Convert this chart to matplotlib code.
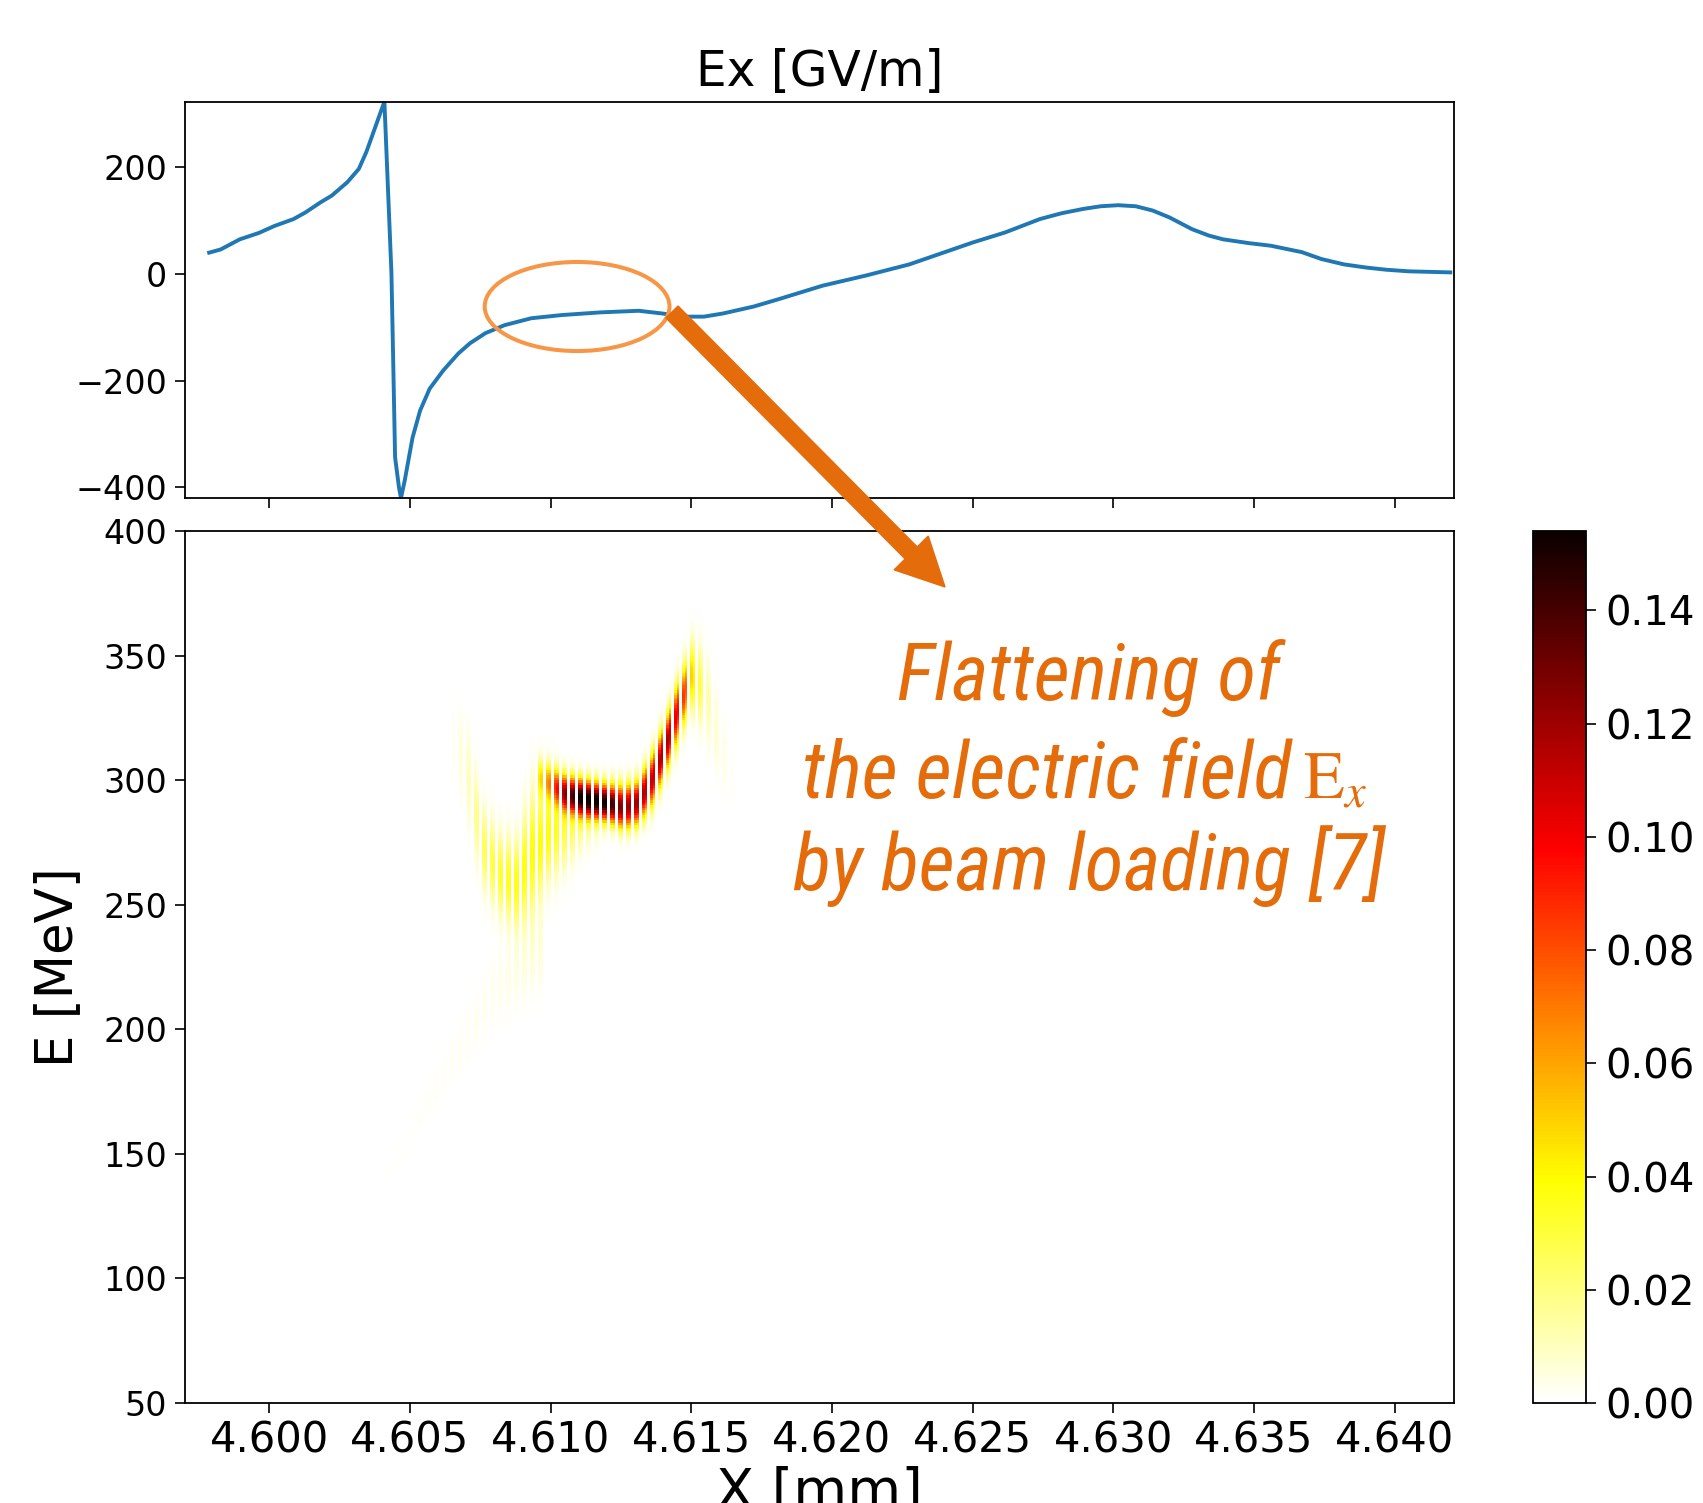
import numpy as np
import matplotlib
matplotlib.use("Agg")
import matplotlib.pyplot as plt
from matplotlib.patches import Ellipse, FancyArrow

plt.rcParams['mathtext.fontset'] = 'stix'

########## top panel : on-axis field Ex [GV/m] ##########
ex_x = [4.59786, 4.59827, 4.59895, 4.59963, 4.60018, 4.60086, 4.60127, 4.60181,
        4.60222, 4.60277, 4.60318, 4.60345, 4.60379, 4.60400, 4.60409, 4.60434,
        4.60440, 4.60447, 4.60461, 4.60468, 4.60481, 4.60509, 4.60536, 4.60570,
        4.60618, 4.60672, 4.60713, 4.60768, 4.60836, 4.60931, 4.61040, 4.61177,
        4.61313, 4.61395, 4.61477, 4.61545, 4.61613, 4.61722, 4.61812, 4.61966,
        4.62120, 4.62275, 4.62500, 4.62616, 4.62739, 4.62817, 4.62893, 4.62955,
        4.63017, 4.63080, 4.63140, 4.63200, 4.63280, 4.63340, 4.63390, 4.63480,
        4.63560, 4.63670, 4.63740, 4.63820, 4.63900, 4.63970, 4.64050, 4.64198]
ex_val = [40, 46, 65, 77, 90, 103, 115, 134,
          147, 172, 197, 229, 279, 310, 323, 2,
          -155, -344, -401, -420, -388, -307, -256, -215,
          -181, -149, -130, -111, -96, -83, -77, -72,
          -69, -74, -80, -80, -74, -61, -47, -22,
          -3, 18, 59, 78, 103, 114, 122, 127,
          129, 127, 119, 106, 84, 72, 65, 58,
          53, 41, 28, 18, 12, 8, 5, 3]

########## bottom panel : longitudinal phase space (x, E) ##########
# bright ridge (centre energy, width, peak density) along x
ridge_x = [4.6095, 4.6100, 4.6105, 4.6111, 4.6120, 4.6126, 4.6131, 4.6136,
           4.6141, 4.6145, 4.6148, 4.6150, 4.6155, 4.6160, 4.6165]
ridge_E = [302, 299, 295, 293, 291, 289, 291, 300, 314, 327, 336, 342, 336, 315, 300]
ridge_sig = [5, 5, 5, 5, 5, 6, 6, 7, 7, 8, 8, 9, 11, 11, 9]
ridge_amp = [0.03, 0.06, 0.11, 0.15, 0.15, 0.12, 0.12, 0.11, 0.12, 0.10, 0.08, 0.05,
             0.015, 0.005, 0.002]
# broad yellow band on the left
halo_x = [4.6065, 4.6070, 4.6076, 4.6082, 4.6088, 4.6093, 4.6099, 4.6105, 4.6111, 4.6117, 4.6122]
halo_E = [318, 305, 273, 262, 258, 270, 279, 281, 283, 285, 287]
halo_sig = [10, 13, 11, 11, 12, 17, 13, 11, 8, 7, 6]
halo_amp = [0.002, 0.008, 0.025, 0.032, 0.036, 0.038, 0.038, 0.03, 0.02, 0.01, 0.0]
# faint low-energy tail
tail_x = [4.6040, 4.6060, 4.6080, 4.6098]
tail_E = [138, 178, 215, 235]
tail_sig = [6, 8, 10, 12]
tail_amp = [0.0008, 0.0015, 0.003, 0.006]

x_ticks = [4.600, 4.605, 4.610, 4.615, 4.620, 4.625, 4.630, 4.635, 4.640]
E_ticks = [50, 100, 150, 200, 250, 300, 350, 400]
ex_ticks = [-400, -200, 0, 200]
cb_ticks = [0.00, 0.02, 0.04, 0.06, 0.08, 0.10, 0.12, 0.14]

x_edges = np.arange(4.5970, 4.6422, 0.000095)
E_edges = np.arange(50, 401, 1.0)
xc = 0.5 * (x_edges[1:] + x_edges[:-1])
Ec = 0.5 * (E_edges[1:] + E_edges[:-1])

density = np.zeros((len(Ec), len(xc)))
for px, pE, ps, pa in [(ridge_x, ridge_E, ridge_sig, ridge_amp),
                       (halo_x, halo_E, halo_sig, halo_amp),
                       (tail_x, tail_E, tail_sig, tail_amp)]:
    cE = np.interp(xc, px, pE)
    s = np.interp(xc, px, ps)
    a = np.interp(xc, px, pa, left=0, right=0)
    density += a * np.exp(-0.5 * ((Ec[:, None] - cE[None, :]) / s[None, :]) ** 2)
density[:, 2::3] = 0  # empty macro-particle bins -> white stripes

W, H = 1703, 1503
fig = plt.figure(figsize=(W / 100, H / 100), dpi=100)

ax1 = fig.add_axes([0.1086, 0.6687, 0.745, 0.2636])
ax2 = fig.add_axes([0.1086, 0.0665, 0.745, 0.5802], sharex=ax1)
cax = fig.add_axes([0.9002, 0.0665, 0.0311, 0.5802])

# top panel
ax1.plot(ex_x, ex_val, color='#1f77b4', lw=2.8)
ax1.set_ylim(-420, 323)
ax1.set_yticks(ex_ticks)
ax1.set_title("Ex [GV/m]", fontsize=35, pad=11)
ax1.tick_params(axis='y', labelsize=24, length=7, width=1.2, pad=6)
ax1.tick_params(axis='x', labelbottom=False, length=7, width=1.2)
ax1.add_patch(Ellipse((4.61094, -61), 0.006569, 167, fill=False,
                      edgecolor='#F79646', lw=2.9, zorder=3))

# bottom panel
mesh = ax2.pcolormesh(x_edges, E_edges, density, cmap='hot_r', vmin=0, vmax=0.154,
                      shading='flat', rasterized=True)
ax2.set_xlim(4.5970, 4.6421)
ax2.set_ylim(50, 400)
ax2.set_xticks(x_ticks)
ax2.set_xticklabels(["%.3f" % v for v in x_ticks])
ax2.set_yticks(E_ticks)
ax2.tick_params(axis='y', labelsize=24, length=7, width=1.2, pad=6)
ax2.tick_params(axis='x', labelsize=30, length=7, width=1.2, pad=5)
ax2.set_xlabel("X [mm]", fontsize=40)
ax2.set_ylabel("E [MeV]", fontsize=37)
ax2.yaxis.set_label_coords(-0.080, 0.5)
ax2.xaxis.set_label_coords(0.5, -0.072)

for ax in (ax1, ax2, cax):
    for sp in ax.spines.values():
        sp.set_linewidth(1.3)

cb = fig.colorbar(mesh, cax=cax, ticks=cb_ticks, format='%.2f')
cb.ax.tick_params(labelsize=29, length=7, width=1.2, pad=7)
cb.outline.set_linewidth(1.3)

# annotation: arrow + text (figure pixels -> inches)
fig.add_artist(FancyArrow(672 / 100, (H - 312) / 100, 2.73, -2.75, width=0.17,
                          head_width=0.48, head_length=0.48, length_includes_head=True,
                          color='#E46C0A', transform=fig.dpi_scale_trans, zorder=10))

txt = dict(color='#E46C0A', style='italic', fontsize=57,
           family=['Roboto Condensed', 'Open Sans Condensed', 'Liberation Sans'])
fig.text(1089 / W, 1 - 700 / H, "Flattening of", ha='center', va='baseline', **txt)
fig.text(1292 / W, 1 - 798 / H, "the electric field", ha='right', va='baseline', **txt)
fig.text(1303 / W, 1 - 798 / H, r"$\mathrm{E}_x$", ha='left', va='baseline',
         color='#E46C0A', fontsize=48)
fig.text(1089 / W, 1 - 890 / H, "by beam loading [7]", ha='center', va='baseline', **txt)

fig.savefig("out.png", dpi=100)
